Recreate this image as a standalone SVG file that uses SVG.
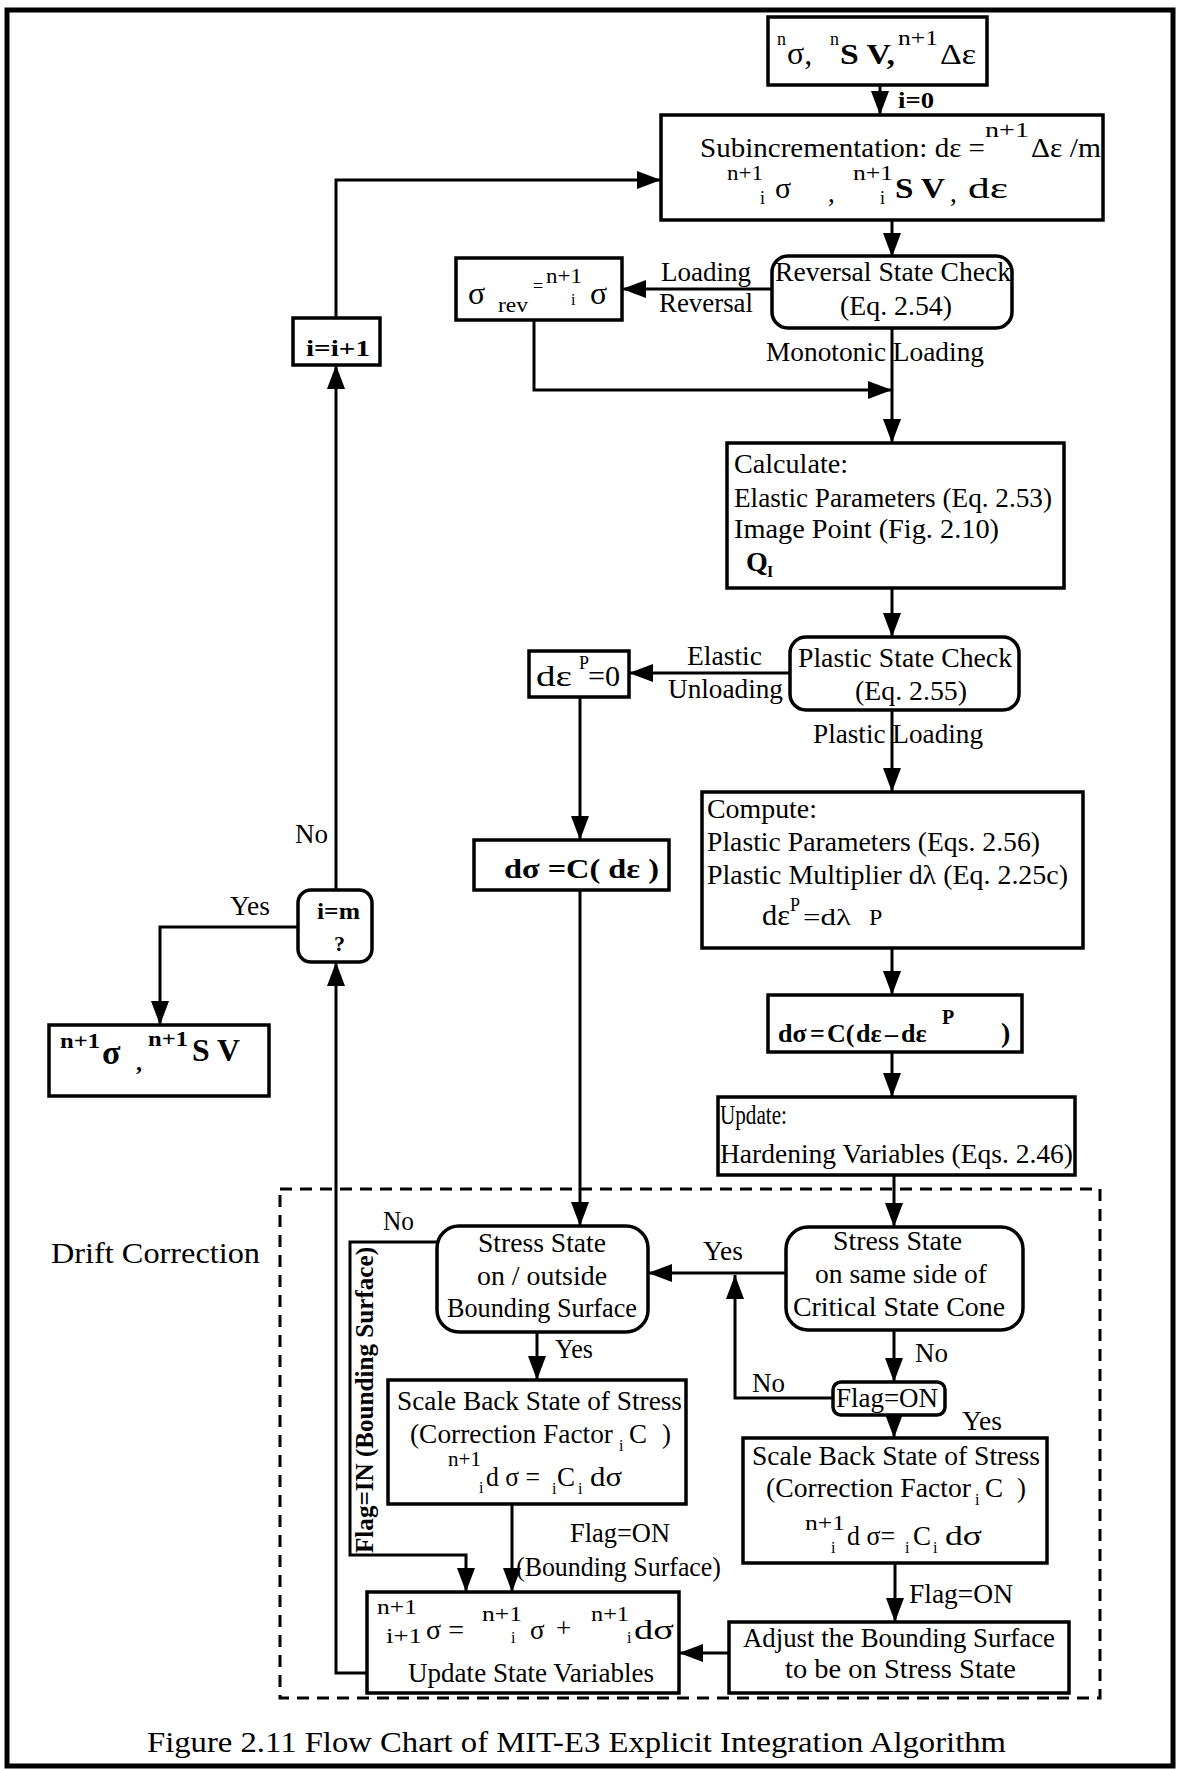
<svg xmlns="http://www.w3.org/2000/svg" width="1180" height="1769" viewBox="0 0 1180 1769" font-size="27">
<style>
.bx{fill:#fff;stroke:#000;stroke-width:3.5}
.c{fill:none;stroke:#000;stroke-width:3}
.t{font-family:"Liberation Serif","Times New Roman",serif;fill:#000}
.b{font-weight:bold}
.s{font-size:20px}
.ss{font-size:16px}
</style>
<defs>
<marker id="ah" markerUnits="userSpaceOnUse" markerWidth="24" markerHeight="18" refX="24" refY="9" orient="auto">
<path d="M0,0 L24,9 L0,18 z" fill="#000"/>
</marker>
</defs>
<rect x="0" y="0" width="1180" height="1769" fill="#fff"/>
<rect x="7" y="10" width="1166" height="1756" fill="none" stroke="#000" stroke-width="5"/>
<rect x="280" y="1189" width="820" height="509" fill="none" stroke="#000" stroke-width="3" stroke-dasharray="12 8"/>
<text class="t" x="51" y="1263" font-size="30" textLength="209" lengthAdjust="spacingAndGlyphs">Drift Correction</text>

<g id="connectors">
<path class="c" d="M880,85 V115" marker-end="url(#ah)"/>
<path class="c" d="M892,220 V257" marker-end="url(#ah)"/>
<path class="c" d="M772,289 H622" marker-end="url(#ah)"/>
<path class="c" d="M892,327 V443" marker-end="url(#ah)"/>
<path class="c" d="M534,320 V390 H892" marker-end="url(#ah)"/>
<path class="c" d="M892,588 V637" marker-end="url(#ah)"/>
<path class="c" d="M790,673 H629" marker-end="url(#ah)"/>
<path class="c" d="M892,710 V792" marker-end="url(#ah)"/>
<path class="c" d="M580,697 V840" marker-end="url(#ah)"/>
<path class="c" d="M892,948 V995" marker-end="url(#ah)"/>
<path class="c" d="M892,1052 V1097" marker-end="url(#ah)"/>
<path class="c" d="M894,1175 V1227" marker-end="url(#ah)"/>
<path class="c" d="M580,890 V1226" marker-end="url(#ah)"/>
<path class="c" d="M786,1273 H648" marker-end="url(#ah)"/>
<path class="c" d="M894,1330 V1382" marker-end="url(#ah)"/>
<path class="c" d="M833,1398 H735 V1275" marker-end="url(#ah)"/>
<path class="c" d="M894,1415 V1438" marker-end="url(#ah)"/>
<path class="c" d="M895,1563 V1622" marker-end="url(#ah)"/>
<path class="c" d="M729,1653 H679" marker-end="url(#ah)"/>
<path class="c" d="M512,1504 V1592" marker-end="url(#ah)"/>
<path class="c" d="M537,1332 V1380" marker-end="url(#ah)"/>
<path class="c" d="M437,1242 H350 V1555 H466 V1592" marker-end="url(#ah)"/>
<path class="c" d="M367,1673 H336 V962" marker-end="url(#ah)"/>
<path class="c" d="M336,890 V365" marker-end="url(#ah)"/>
<path class="c" d="M336,318 V180 H661" marker-end="url(#ah)"/>
<path class="c" d="M298,927 H160 V1025" marker-end="url(#ah)"/>
<text class="t b" x="898" y="108" font-size="24" textLength="36" lengthAdjust="spacingAndGlyphs">i=0</text>
<text class="t" x="661" y="281" textLength="90" lengthAdjust="spacingAndGlyphs">Loading</text>
<text class="t" x="659" y="312" textLength="94" lengthAdjust="spacingAndGlyphs">Reversal</text>
<text class="t" x="766" y="361" textLength="218" lengthAdjust="spacingAndGlyphs">Monotonic Loading</text>
<text class="t" x="687" y="665" textLength="75" lengthAdjust="spacingAndGlyphs">Elastic</text>
<text class="t" x="668" y="698" textLength="115" lengthAdjust="spacingAndGlyphs">Unloading</text>
<text class="t" x="813" y="743" textLength="170" lengthAdjust="spacingAndGlyphs">Plastic Loading</text>
<text class="t" x="295" y="843" textLength="33" lengthAdjust="spacingAndGlyphs">No</text>
<text class="t" x="230" y="915" textLength="40" lengthAdjust="spacingAndGlyphs">Yes</text>
<text class="t" x="383" y="1230" textLength="31" lengthAdjust="spacingAndGlyphs">No</text>
<text class="t" x="703" y="1260" textLength="40" lengthAdjust="spacingAndGlyphs">Yes</text>
<text class="t" x="555" y="1358" textLength="38" lengthAdjust="spacingAndGlyphs">Yes</text>
<text class="t" x="915" y="1362" textLength="33" lengthAdjust="spacingAndGlyphs">No</text>
<text class="t" x="752" y="1392" textLength="33" lengthAdjust="spacingAndGlyphs">No</text>
<text class="t" x="962" y="1430" textLength="40" lengthAdjust="spacingAndGlyphs">Yes</text>
<text class="t" x="570" y="1542" textLength="100" lengthAdjust="spacingAndGlyphs">Flag=ON</text>
<text class="t" x="516" y="1576" textLength="205" lengthAdjust="spacingAndGlyphs">(Bounding Surface)</text>
<text class="t" x="909" y="1603" textLength="104" lengthAdjust="spacingAndGlyphs">Flag=ON</text>
<text class="t b" font-size="25" transform="translate(373,1553) rotate(-90)" x="0" y="0" textLength="306" lengthAdjust="spacingAndGlyphs">Flag=IN (Bounding Surface)</text>
</g>

<g id="n-input">
<rect class="bx" x="768" y="17" width="219" height="68"/>
<text class="t" x="777" y="45" font-size="18">n</text>
<text class="t" x="787" y="64" font-size="32">σ,</text>
<text class="t" x="830" y="45" font-size="18">n</text>
<text class="t b" x="840" y="64" font-size="30" textLength="55" lengthAdjust="spacingAndGlyphs">S V,</text>
<text class="t s" x="898" y="45" textLength="40" lengthAdjust="spacingAndGlyphs">n+1</text>
<text class="t" x="940" y="64" font-size="30" textLength="36" lengthAdjust="spacingAndGlyphs">Δε</text>
</g>

<g id="n-subinc">
<rect class="bx" x="661" y="115" width="442" height="105"/>
<text class="t" x="700" y="157" textLength="285" lengthAdjust="spacingAndGlyphs">Subincrementation: dε =</text>
<text class="t s" x="985" y="137" textLength="44" lengthAdjust="spacingAndGlyphs">n+1</text>
<text class="t" x="1031" y="157" textLength="70" lengthAdjust="spacingAndGlyphs">Δε /m</text>
<text class="t s" x="727" y="180" textLength="36" lengthAdjust="spacingAndGlyphs">n+1</text>
<text class="t" x="760" y="204" font-size="18">i</text>
<text class="t" x="775" y="198" font-size="30">σ</text>
<text class="t" x="828" y="202">,</text>
<text class="t s" x="853" y="180" textLength="40" lengthAdjust="spacingAndGlyphs">n+1</text>
<text class="t" x="880" y="204" font-size="18">i</text>
<text class="t b" x="895" y="198" font-size="30" textLength="50" lengthAdjust="spacingAndGlyphs">S V</text>
<text class="t" x="950" y="202">,</text>
<text class="t" x="968" y="198" font-size="30" textLength="40" lengthAdjust="spacingAndGlyphs">dε</text>
</g>

<g id="n-reversal">
<rect class="bx" x="772" y="256" width="240" height="72" rx="16"/>
<text class="t" x="775" y="281" textLength="236" lengthAdjust="spacingAndGlyphs">Reversal State Check</text>
<text class="t" x="840" y="315" textLength="112" lengthAdjust="spacingAndGlyphs">(Eq. 2.54)</text>
</g>

<g id="n-srev">
<rect class="bx" x="456" y="258" width="166" height="62"/>
<text class="t" x="468" y="304" font-size="32">σ</text>
<text class="t s" x="498" y="312" textLength="30" lengthAdjust="spacingAndGlyphs">rev</text>
<text class="t" x="533" y="292" font-size="18">=</text>
<text class="t s" x="546" y="283" textLength="36" lengthAdjust="spacingAndGlyphs">n+1</text>
<text class="t ss" x="571" y="305">i</text>
<text class="t" x="590" y="304" font-size="32">σ</text>
</g>

<g id="n-incr">
<rect class="bx" x="293" y="318" width="87" height="47"/>
<text class="t b" x="306" y="356" font-size="24" textLength="64" lengthAdjust="spacingAndGlyphs">i=i+1</text>
</g>

<g id="n-calc">
<rect class="bx" x="727" y="443" width="337" height="145"/>
<text class="t" x="734" y="473" textLength="114" lengthAdjust="spacingAndGlyphs">Calculate:</text>
<text class="t" x="734" y="507" textLength="318" lengthAdjust="spacingAndGlyphs">Elastic Parameters (Eq. 2.53)</text>
<text class="t" x="734" y="538" textLength="265" lengthAdjust="spacingAndGlyphs">Image Point (Fig. 2.10)</text>
<text class="t b" x="746" y="571" font-size="28">Q</text>
<text class="t b ss" x="767" y="577">I</text>
</g>

<g id="n-plastic-check">
<rect class="bx" x="790" y="637" width="229" height="73" rx="16"/>
<text class="t" x="798" y="667" textLength="214" lengthAdjust="spacingAndGlyphs">Plastic State Check</text>
<text class="t" x="855" y="700" textLength="112" lengthAdjust="spacingAndGlyphs">(Eq. 2.55)</text>
</g>

<g id="n-depzero">
<rect class="bx" x="529" y="651" width="100" height="46"/>
<text class="t" x="536" y="686" font-size="30" textLength="36" lengthAdjust="spacingAndGlyphs">dε</text>
<text class="t" x="579" y="669" font-size="18">P</text>
<text class="t" x="588" y="686" font-size="30" textLength="32" lengthAdjust="spacingAndGlyphs">=0</text>
</g>

<g id="n-compute">
<rect class="bx" x="702" y="792" width="381" height="156"/>
<text class="t" x="707" y="818" textLength="110" lengthAdjust="spacingAndGlyphs">Compute:</text>
<text class="t" x="707" y="851" textLength="333" lengthAdjust="spacingAndGlyphs">Plastic Parameters (Eqs. 2.56)</text>
<text class="t" x="707" y="884" textLength="361" lengthAdjust="spacingAndGlyphs">Plastic Multiplier dλ (Eq. 2.25c)</text>
<text class="t" x="762" y="925" font-size="30" textLength="28" lengthAdjust="spacingAndGlyphs">dε</text>
<text class="t" x="790" y="911" font-size="18">P</text>
<text class="t" x="803" y="925" font-size="24" textLength="48" lengthAdjust="spacingAndGlyphs">=dλ</text>
<text class="t" x="869" y="925" font-size="24">P</text>
</g>

<g id="n-dsig-elastic">
<rect class="bx" x="474" y="840" width="195" height="50"/>
<text class="t b" x="504" y="878" font-size="28" textLength="155" lengthAdjust="spacingAndGlyphs">dσ =C( dε )</text>
</g>

<g id="n-check-m">
<rect class="bx" x="298" y="890" width="74" height="72" rx="13"/>
<text class="t b" x="317" y="919" font-size="24" textLength="43" lengthAdjust="spacingAndGlyphs">i=m</text>
<text class="t b" x="334" y="951" font-size="22">?</text>
</g>

<g id="n-result">
<rect class="bx" x="49" y="1025" width="220" height="71"/>
<text class="t b s" x="60" y="1048" textLength="40" lengthAdjust="spacingAndGlyphs">n+1</text>
<text class="t b" x="102" y="1064" font-size="34">σ</text>
<text class="t b" x="136" y="1070" font-size="24">,</text>
<text class="t b s" x="148" y="1046" textLength="40" lengthAdjust="spacingAndGlyphs">n+1</text>
<text class="t b" x="192" y="1061" font-size="32" textLength="48" lengthAdjust="spacingAndGlyphs">S V</text>
</g>

<g id="n-dsig-plastic">
<rect class="bx" x="768" y="995" width="254" height="57"/>
<text class="t b" x="778" y="1042" font-size="26">dσ</text>
<text class="t b" x="810" y="1042" font-size="26">=</text>
<text class="t b" x="827" y="1042" font-size="26">C(</text>
<text class="t b" x="856" y="1042" font-size="26">dε</text>
<text class="t b" x="885" y="1042" font-size="26">–</text>
<text class="t b" x="901" y="1042" font-size="26">dε</text>
<text class="t b" x="942" y="1024" font-size="20">P</text>
<text class="t b" x="1001" y="1042" font-size="28">)</text>
</g>

<g id="n-update">
<rect class="bx" x="718" y="1097" width="357" height="78"/>
<text class="t" x="720" y="1124" textLength="67" lengthAdjust="spacingAndGlyphs">Update:</text>
<text class="t" x="720" y="1163" textLength="353" lengthAdjust="spacingAndGlyphs">Hardening Variables (Eqs. 2.46)</text>
</g>

<g id="n-outside">
<rect class="bx" x="437" y="1226" width="211" height="106" rx="22"/>
<text class="t" x="478" y="1252" textLength="128" lengthAdjust="spacingAndGlyphs">Stress State</text>
<text class="t" x="477" y="1285" textLength="130" lengthAdjust="spacingAndGlyphs">on / outside</text>
<text class="t" x="447" y="1317" textLength="190" lengthAdjust="spacingAndGlyphs">Bounding Surface</text>
</g>

<g id="n-cone">
<rect class="bx" x="786" y="1227" width="237" height="103" rx="22"/>
<text class="t" x="833" y="1250" textLength="129" lengthAdjust="spacingAndGlyphs">Stress State</text>
<text class="t" x="815" y="1283" textLength="172" lengthAdjust="spacingAndGlyphs">on same side of</text>
<text class="t" x="793" y="1316" textLength="212" lengthAdjust="spacingAndGlyphs">Critical State Cone</text>
</g>

<g id="n-flag">
<rect class="bx" x="833" y="1382" width="112" height="33" rx="8"/>
<text class="t" x="836" y="1407" textLength="102" lengthAdjust="spacingAndGlyphs">Flag=ON</text>
</g>

<g id="n-scale-left">
<rect class="bx" x="388" y="1380" width="298" height="124"/>
<text class="t" x="397" y="1410" textLength="285" lengthAdjust="spacingAndGlyphs">Scale Back State of Stress</text>
<text class="t" x="410" y="1443" textLength="203" lengthAdjust="spacingAndGlyphs">(Correction Factor</text>
<text class="t ss" x="619" y="1451">i</text>
<text class="t" x="629" y="1443">C</text>
<text class="t" x="662" y="1443">)</text>
<text class="t s" x="448" y="1466" textLength="33" lengthAdjust="spacingAndGlyphs">n+1</text>
<text class="t ss" x="479" y="1493">i</text>
<text class="t" x="486" y="1486" textLength="54" lengthAdjust="spacingAndGlyphs">d σ =</text>
<text class="t ss" x="552" y="1494">i</text>
<text class="t" x="557" y="1486">C</text>
<text class="t ss" x="578" y="1494">i</text>
<text class="t" x="590" y="1486" textLength="32" lengthAdjust="spacingAndGlyphs">dσ</text>
</g>

<g id="n-scale-right">
<rect class="bx" x="743" y="1438" width="304" height="125"/>
<text class="t" x="752" y="1465" textLength="288" lengthAdjust="spacingAndGlyphs">Scale Back State of Stress</text>
<text class="t" x="766" y="1497" textLength="205" lengthAdjust="spacingAndGlyphs">(Correction Factor</text>
<text class="t ss" x="975" y="1505">i</text>
<text class="t" x="985" y="1497">C</text>
<text class="t" x="1017" y="1497">)</text>
<text class="t s" x="805" y="1530" textLength="40" lengthAdjust="spacingAndGlyphs">n+1</text>
<text class="t ss" x="831" y="1553">i</text>
<text class="t" x="847" y="1545" textLength="48" lengthAdjust="spacingAndGlyphs">d σ=</text>
<text class="t ss" x="905" y="1553">i</text>
<text class="t" x="913" y="1545">C</text>
<text class="t ss" x="933" y="1553">i</text>
<text class="t" x="945" y="1545" textLength="37" lengthAdjust="spacingAndGlyphs">dσ</text>
</g>

<g id="n-update-state">
<rect class="bx" x="367" y="1592" width="312" height="101"/>
<text class="t s" x="377" y="1614" textLength="40" lengthAdjust="spacingAndGlyphs">n+1</text>
<text class="t s" x="386" y="1643" textLength="36" lengthAdjust="spacingAndGlyphs">i+1</text>
<text class="t" x="426" y="1639" textLength="38" lengthAdjust="spacingAndGlyphs">σ =</text>
<text class="t s" x="482" y="1621" textLength="40" lengthAdjust="spacingAndGlyphs">n+1</text>
<text class="t ss" x="511" y="1643">i</text>
<text class="t" x="530" y="1639">σ</text>
<text class="t" x="556" y="1637">+</text>
<text class="t s" x="591" y="1621" textLength="38" lengthAdjust="spacingAndGlyphs">n+1</text>
<text class="t ss" x="627" y="1643">i</text>
<text class="t" x="634" y="1639" textLength="40" lengthAdjust="spacingAndGlyphs">dσ</text>
<text class="t" x="408" y="1682" textLength="246" lengthAdjust="spacingAndGlyphs">Update State Variables</text>
</g>

<g id="n-adjust">
<rect class="bx" x="729" y="1622" width="340" height="71"/>
<text class="t" x="743" y="1647" textLength="312" lengthAdjust="spacingAndGlyphs">Adjust the Bounding Surface</text>
<text class="t" x="785" y="1678" textLength="231" lengthAdjust="spacingAndGlyphs">to be on Stress State</text>
</g>

<text class="t" x="147" y="1752" font-size="30" textLength="859" lengthAdjust="spacingAndGlyphs">Figure 2.11 Flow Chart of MIT-E3 Explicit Integration Algorithm</text>
</svg>
